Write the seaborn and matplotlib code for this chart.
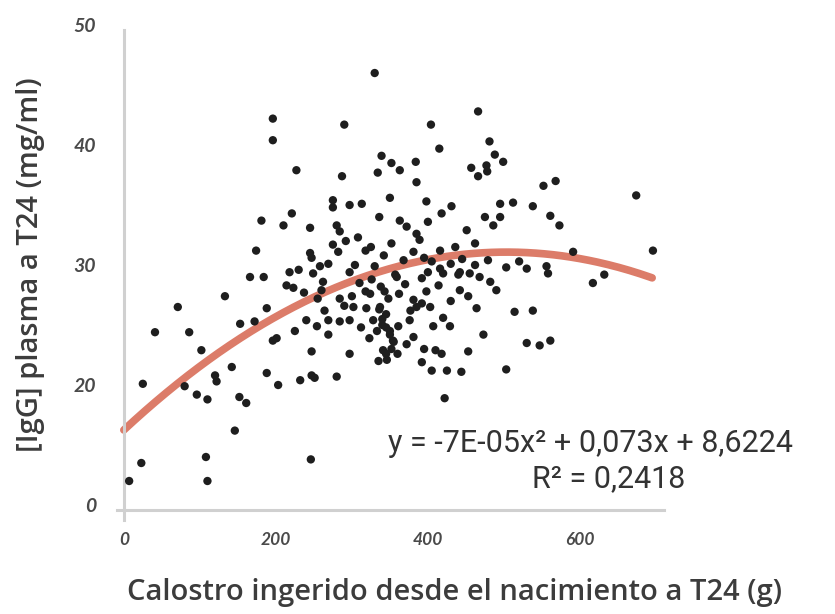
import numpy as np
import pandas as pd
import seaborn as sns
import matplotlib.pyplot as plt

# ---- data ----
calostro_g = [
    330, 196, 196, 290, 227, 287, 334, 339, 352, 363, 384, 385, 275, 275, 297, 313, 350,
    181, 221, 210, 245, 280, 284, 336, 363, 372, 385, 174, 245, 247, 275, 282, 318, 352,
    381, 166, 184, 218, 249, 258, 269, 297, 304, 330, 359, 214,
    223, 133, 71, 41, 86, 102, 25, 80, 96, 110, 120, 122, 142, 153, 172, 188, 152, 161,
    146, 108, 110, 23, 7, 246, 188, 203, 196, 201, 232, 247, 251, 280, 247, 297, 225,
    240, 254, 269, 264, 269, 284, 297, 302, 260, 284, 300, 319, 324, 328, 323, 341, 346,
    336, 340, 345, 333, 350, 355, 352, 343, 357, 381, 376, 381,
    337, 345, 340, 350, 345, 361, 354, 385, 392, 403, 398, 414, 407, 420, 429, 418, 453,
    392, 405, 425, 444, 422, 503, 473, 530, 547, 561, 514, 538, 442, 453, 464, 440, 482,
    490, 416, 420, 442, 455, 479, 503, 556, 558, 617, 632,
    466, 404, 415, 481, 488, 499, 457, 466, 477, 478, 398, 552, 568, 674, 495, 512, 538,
    561, 573, 418, 431, 400, 475, 486, 495, 389, 451, 416, 436, 462, 696, 591,
    310, 318, 326, 338, 348, 362, 370, 377, 392, 400, 405, 395, 368, 342, 325, 308, 292,
    262, 255, 237, 230, 290, 312, 335, 360, 372, 395, 410, 430, 445, 430, 462, 468, 520, 530,
]
igg_mg_ml = [
    46.0, 42.2, 40.4, 41.7, 37.9, 37.4, 37.7, 39.1, 38.5, 37.9, 38.6, 36.9, 35.4, 34.8, 35.0, 35.1, 35.6,
    33.7, 34.3, 33.3, 33.1, 33.3, 32.8, 34.0, 33.7, 33.2, 32.6, 31.2, 31.0, 30.6, 31.7, 31.1, 31.2, 31.8,
    31.1, 29.0, 29.0, 29.4, 29.3, 29.9, 30.1, 29.4, 30.0, 29.9, 29.0, 28.3,
    28.1, 27.4, 26.5, 24.4, 24.4, 22.9, 20.1, 19.9, 19.2, 18.8, 20.8, 20.3, 21.5, 25.1, 25.3, 26.4, 19.0, 18.5,
    16.2, 14.0, 12.0, 13.5, 12.0, 13.8, 21.0, 20.0, 23.7, 23.9, 20.4, 20.8, 20.6, 20.7, 22.8, 22.6, 24.5,
    25.4, 24.9, 24.2, 26.2, 25.4, 25.3, 25.4, 26.5, 27.9, 27.2, 27.4, 26.4, 27.6, 25.4, 23.9, 22.9, 22.1,
    26.3, 25.5, 24.8, 24.5, 24.2, 23.6, 23.0, 27.8, 29.2, 24.0, 25.4, 27.1,
    26.5, 25.9, 25.0, 24.5, 22.6, 24.9, 23.7, 26.5, 26.8, 26.5, 27.8, 28.3, 24.9, 25.6, 24.9, 22.6, 22.8,
    21.9, 21.2, 21.2, 21.1, 18.9, 21.3, 24.2, 23.5, 23.3, 23.7, 26.1, 26.2, 27.9, 27.4, 26.4, 29.2, 28.6,
    27.9, 29.7, 29.3, 29.4, 29.3, 30.4, 29.8, 29.9, 29.3, 28.5, 29.2,
    42.8, 41.7, 39.7, 40.3, 39.2, 38.6, 38.1, 37.4, 38.3, 37.8, 35.3, 36.6, 37.0, 35.8, 35.1, 35.2, 34.9,
    34.1, 33.3, 34.3, 34.9, 33.6, 34.0, 33.3, 34.0, 32.1, 32.9, 31.2, 31.5, 31.8, 31.2, 31.1,
    28.5, 27.8, 28.8, 28.2, 27.2, 27.6, 28.4, 26.2, 28.9, 29.4, 30.3, 30.6, 30.4, 30.8, 31.5, 32.3, 32.0,
    28.6, 27.2, 27.7, 29.6, 26.6, 24.8, 22.0, 22.6, 23.4, 23.0, 22.9, 27.0, 30.5, 30.1, 30.0, 29.0, 30.3, 29.7,
]
# quadratic trend as drawn in the picture (a, b, c)
trend_coef = [-5.85e-5, 0.0589, 16.25]
trend_range = [0, 695]
x_ticks = [0, 200, 400, 600]
x_tick_labels = ["0", "200", "400", "600"]
y_ticks = [10, 20, 30, 40, 50]
y_tick_labels = ["0", "20", "30", "40", "50"]
equation_text = "y = -7E-05x² + 0,073x + 8,6224"
r2_text = "R² = 0,2418"

df = pd.DataFrame({"calostro": calostro_g, "igg": igg_mg_ml})
xs = np.linspace(trend_range[0], trend_range[1], 300)
trend = pd.DataFrame({"x": xs, "y": np.polyval(trend_coef, xs)})

sns.set_theme(style="white")
plt.rcParams["font.family"] = ["Open Sans", "DejaVu Sans"]

fig = plt.figure(figsize=(8.35, 6.14), dpi=100)
ax = fig.add_axes([0.1401, 0.1531, 0.6546, 0.8081])

sns.lineplot(data=trend, x="x", y="y", color="#da7561", lw=5.5, alpha=0.95,
             ax=ax, zorder=2)
sns.scatterplot(data=df, x="calostro", y="igg", color="#1e1e1e", s=36,
                edgecolor="none", ax=ax, zorder=3)

ax.set_xlim(-9, 710)
ax.set_ylim(8.75, 50.1)

for side in ["top", "right"]:
    ax.spines[side].set_visible(False)
ax.spines["left"].set_position(("data", 0))
ax.spines["left"].set_bounds(8.75, 49.6)
ax.spines["bottom"].set_position(("data", 9.6))
for side in ["left", "bottom"]:
    ax.spines[side].set_color("#d0d0d0")
    ax.spines[side].set_linewidth(2.2)

tick_font = dict(fontstyle="italic", fontweight="bold", color="#4a4a4a",
                 family=["Lato", "DejaVu Sans"])
ax.set_xticks(x_ticks)
ax.set_xticklabels(x_tick_labels, fontsize=12.5, **tick_font)
ax.set_yticks(y_ticks)
ax.set_yticklabels(y_tick_labels, fontsize=14, **tick_font)
ax.tick_params(axis="x", length=11, width=1.5, color="#d0d0d0", pad=5, direction="out")
ax.tick_params(axis="y", length=0, pad=20)

ax.set_xlabel("Calostro ingerido desde el nacimiento a T24 (g)", fontsize=21,
              fontweight="semibold", color="#3c3c3c", va="center")
ax.xaxis.set_label_coords(0.618, -0.147)
ax.set_ylabel("[IgG] plasma a T24 (mg/ml)", fontsize=21, fontweight="semibold",
              color="#3c3c3c", va="center")
ax.yaxis.set_label_coords(-0.159, 0.514)

ax.text(614, 15.1, equation_text, ha="center", va="center", fontsize=22,
        color="#333333", family=["Roboto", "DejaVu Sans"])
ax.text(638, 12.2, r2_text, ha="center", va="center", fontsize=22,
        color="#333333", family=["Roboto", "DejaVu Sans"])

fig.savefig("out.png", dpi=100)
